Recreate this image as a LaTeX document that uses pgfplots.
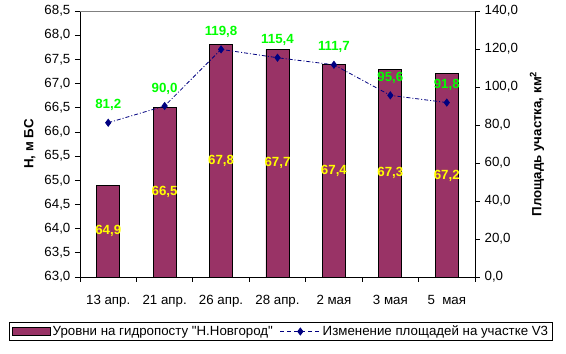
\documentclass[border=0pt]{standalone}
\usepackage{fontspec}
\setmainfont{Liberation Sans}
\usepackage{pgfplots}
\pgfplotsset{compat=1.18}
\definecolor{barc}{HTML}{993366}
\definecolor{linec}{HTML}{000080}
\definecolor{lblgreen}{HTML}{00FF00}
\definecolor{lblyellow}{HTML}{FFFF00}
\newcommand\dq{\XeTeXglyph\XeTeXcharglyph"22\relax}
\pgfplotsset{linelegend/.style={legend image code/.code={\draw[mark repeat=2,mark phase=2,##1] plot coordinates {(0bp,0bp)(20bp,0bp)(40bp,0bp)};}}}
\begin{document}
\fontsize{13.3bp}{16bp}\selectfont
\begin{tikzpicture}
\useasboundingbox (0,0) rectangle (566bp,354bp);
\pgfplotsset{
  common/.style={
    scale only axis, width=395bp, height=266bp,
    at={(80bp,77bp)}, anchor=south west,
    xmin=-0.5, xmax=6.5,
    font=\fontsize{13.3bp}{16bp}\selectfont,
    /pgf/number format/.cd, fixed, fixed zerofill, precision=1, use comma, assume math mode=true, /pgfplots/.cd,
    tick align=outside,
    major tick length=5bp, minor tick length=5bp,
    axis line style={line width=0.8bp, black},
    every tick/.style={line width=0.8bp, black},
  }
}
\begin{axis}[common,
  ymin=63, ymax=68.5, ytick distance=0.5,
  axis x line*=bottom, axis y line*=left,
  xtick={0,...,6},
  xticklabels={13 апр., 21 апр., 26 апр., 28 апр., 2 мая, 3 мая, 5\ \ мая},
  minor xtick={-0.5,0.5,...,6.5},
  major x tick style={draw=none},
  xticklabel style={yshift=-9bp},
  ylabel={\bfseries Н, м БС},
  ylabel style={at={(axis description cs:-0.127,0.5)}, anchor=center},
  legend style={at={(axis description cs:0.5089,-0.2049)}, anchor=center,
    legend columns=2, draw=black, line width=0.8bp, inner ysep=1bp, inner xsep=2bp,
    font=\fontsize{13.3bp}{16bp}\selectfont,
    /tikz/every even column/.append style={column sep=5bp}},
  legend cell align=left,
]
\addplot[ybar, bar width=23bp, fill=barc, draw=black, line width=0.8bp,
  nodes near coords,
  visualization depends on={y \as \rawy},
  nodes near coords style={font=\fontsize{13.3bp}{16bp}\selectfont\bfseries, text=lblyellow, anchor=center,
    yshift={-(\rawy-63)/5.5*133bp}},
  legend image code/.code={\draw[fill=barc,draw=black,line width=0.8bp] (0bp,-4bp) rectangle (38bp,4bp);}
] coordinates {(0,64.9)(1,66.5)(2,67.8)(3,67.7)(4,67.4)(5,67.3)(6,67.2)};
\addlegendentry{Уровни на гидропосту \dq Н.Новгород\dq}
\addlegendimage{linec, line width=0.8bp, dash pattern=on 4bp off 3bp, mark=diamond*, mark size=3.5bp, mark options={solid, fill=linec}, linelegend}
\addlegendentry{Изменение площадей на участке V3}
\draw[gray, line width=0.8bp] (rel axis cs:0,1) -- (rel axis cs:1,1);
\end{axis}
\begin{axis}[common,
  ymin=0, ymax=140, ytick distance=20,
  axis y line*=right, axis x line=none,
  ylabel={\bfseries Площадь участка, км\textsuperscript{2}},
  ylabel style={at={(axis description cs:1.157,0.5)}, anchor=center, rotate=0},
]
\addplot[linec, line width=0.8bp, dash pattern=on 4bp off 2bp on 1bp off 2bp, mark=diamond*, mark size=3.5bp, mark options={solid, fill=linec},
  nodes near coords,
  nodes near coords style={font=\fontsize{13.3bp}{16bp}\selectfont\bfseries, text=lblgreen, anchor=south, yshift=7bp}]
coordinates {(0,81.2)(1,90.0)(2,119.8)(3,115.4)(4,111.7)(5,95.6)(6,91.8)};
\end{axis}
\end{tikzpicture}
\end{document}
